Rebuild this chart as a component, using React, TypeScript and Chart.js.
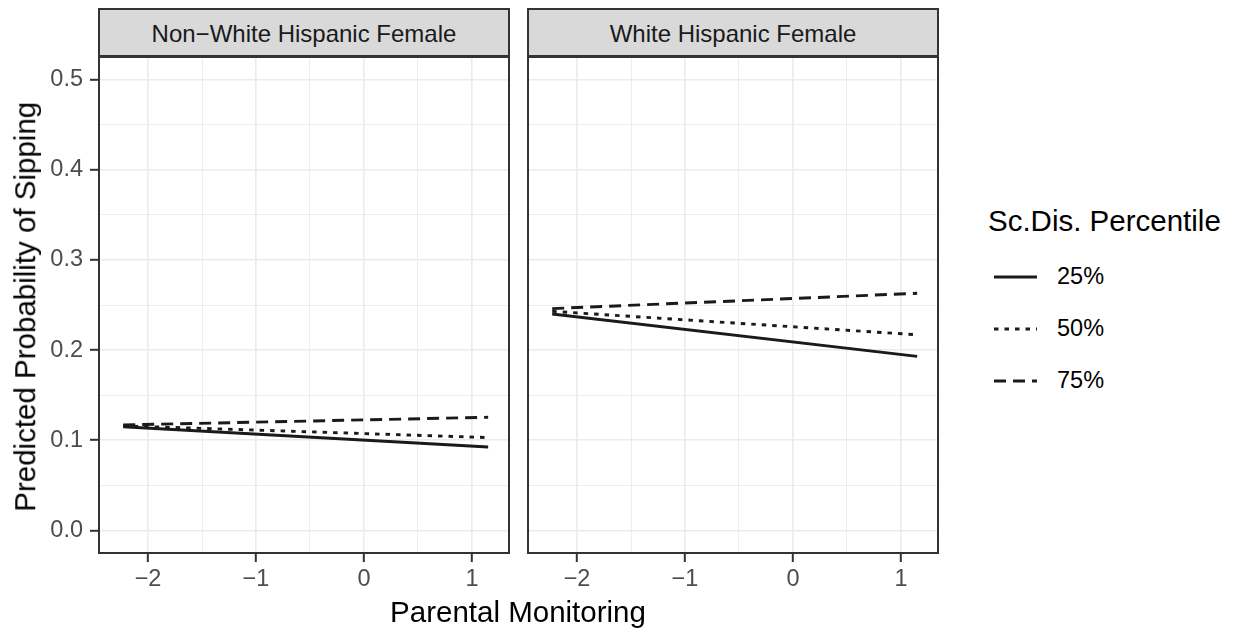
import React, { useEffect, useRef } from "react";
import { Chart, registerables } from "chart.js";

Chart.register(...registerables);

// ---------- data ----------
const panelTitles = ["Non\u2212White Hispanic Female", "White Hispanic Female"];
const seriesNames = ["25%", "50%", "75%"];
const legendTitle = "Sc.Dis. Percentile";
const xAxisTitle = "Parental Monitoring";
const yAxisTitle = "Predicted Probability of Sipping";

const xPoints = [-2.23, 1.15];
const nonWhite25 = [0.115, 0.0925];
const nonWhite50 = [0.116, 0.103];
const nonWhite75 = [0.117, 0.1255];
const white25 = [0.24, 0.193];
const white50 = [0.243, 0.217];
const white75 = [0.246, 0.263];

const yMajorTicks = [0, 0.1, 0.2, 0.3, 0.4, 0.5];
const yMinorTicks = [0.05, 0.15, 0.25, 0.35, 0.45];
const yTickLabels = ["0.0", "0.1", "0.2", "0.3", "0.4", "0.5"];
const xMajorTicks = [-2, -1, 0, 1];
const xMinorTicks = [-1.5, -0.5, 0.5];
const xTickLabels = ["\u22122", "\u22121", "0", "1"];
const xRange = [-2.454, 1.343];
const yRange = [-0.025, 0.525];

// ---------- style ----------
const FONT = '"Liberation Sans", Arial, Helvetica, sans-serif';
const dashes: number[][] = [[], [4.5, 6], [12, 7]];
const LINE_W = 2.9;
const LINE_COLOR = "#1a1a1a";
const W = 1245;
const H = 635;
const AREA_TOP = 57;
const AREA_BOTTOM = 553;

const isIn = (arr: number[], v: number) => arr.some((a) => Math.abs(a - v) < 1e-9);

const panelBorder = {
  id: "panelBorder",
  afterDatasetsDraw(chart: any) {
    const { ctx, chartArea: a } = chart;
    ctx.save();
    ctx.strokeStyle = "#333333";
    ctx.lineWidth = 2;
    ctx.strokeRect(a.left, a.top, a.right - a.left, a.bottom - a.top);
    ctx.restore();
  },
};

type PanelProps = {
  series: number[][];
  showY: boolean;
  canvasLeft: number;
  canvasWidth: number;
  areaLeft: number;
  areaRight: number;
};

function Panel({ series, showY, canvasLeft, canvasWidth, areaLeft, areaRight }: PanelProps) {
  const ref = useRef<HTMLCanvasElement | null>(null);
  useEffect(() => {
    if (!ref.current) return;
    const gridWidth = (ctx: any, major: number[]) =>
      ctx && ctx.tick && isIn(major, ctx.tick.value) ? 1.6 : 0.9;
    const tickCol = (ctx: any, major: number[]) =>
      ctx && ctx.tick && isIn(major, ctx.tick.value) ? "#333333" : "rgba(0,0,0,0)";
    const chart = new Chart(ref.current, {
      type: "line",
      data: {
        datasets: series.map((vals, i) => ({
          label: seriesNames[i],
          data: xPoints.map((x, j) => ({ x, y: vals[j] })),
          borderColor: LINE_COLOR,
          borderWidth: LINE_W,
          borderDash: dashes[i],
          borderCapStyle: "butt",
          pointRadius: 0,
          fill: false,
          tension: 0,
        })),
      },
      options: {
        animation: false,
        responsive: false,
        maintainAspectRatio: false,
        devicePixelRatio: 1,
        layout: {
          padding: {
            top: AREA_TOP,
            left: 0,
            bottom: 0,
            right: canvasLeft + canvasWidth - areaRight,
          },
        },
        plugins: { legend: { display: false }, tooltip: { enabled: false } },
        scales: {
          x: {
            type: "linear",
            min: xRange[0],
            max: xRange[1],
            afterBuildTicks: (s: any) => {
              s.ticks = [...xMajorTicks, ...xMinorTicks]
                .sort((a, b) => a - b)
                .map((v) => ({ value: v }));
            },
            afterFit: (s: any) => {
              s.height = H - AREA_BOTTOM;
            },
            ticks: {
              autoSkip: false,
              maxRotation: 0,
              minRotation: 0,
              padding: 3.5,
              color: "#4d4d4d",
              font: { family: FONT, size: 23.5 },
              callback: (v: any) => {
                const idx = xMajorTicks.findIndex((m) => Math.abs(m - v) < 1e-9);
                return idx >= 0 ? xTickLabels[idx] : "";
              },
            },
            grid: {
              color: "#ebebeb",
              lineWidth: (ctx: any) => gridWidth(ctx, xMajorTicks),
              drawTicks: true,
              tickLength: 9,
              tickWidth: 2,
              tickColor: (ctx: any) => tickCol(ctx, xMajorTicks),
            },
            border: { display: false },
          },
          y: {
            type: "linear",
            min: yRange[0],
            max: yRange[1],
            afterBuildTicks: (s: any) => {
              s.ticks = [...yMajorTicks, ...yMinorTicks]
                .sort((a, b) => a - b)
                .map((v) => ({ value: v }));
            },
            afterFit: (s: any) => {
              s.width = areaLeft - canvasLeft;
            },
            ticks: {
              display: showY,
              autoSkip: false,
              padding: 7,
              color: "#4d4d4d",
              font: { family: FONT, size: 23.5 },
              callback: (v: any) => {
                const idx = yMajorTicks.findIndex((m) => Math.abs(m - v) < 1e-9);
                return idx >= 0 ? yTickLabels[idx] : "";
              },
            },
            grid: {
              color: "#ebebeb",
              lineWidth: (ctx: any) => gridWidth(ctx, yMajorTicks),
              drawTicks: showY,
              tickLength: 9,
              tickWidth: 2,
              tickColor: (ctx: any) => tickCol(ctx, yMajorTicks),
            },
            border: { display: false },
          },
        },
      } as any,
      plugins: [panelBorder],
    });
    return () => chart.destroy();
  }, []);
  return (
    <canvas
      ref={ref}
      width={canvasWidth}
      height={H}
      style={{ position: "absolute", left: canvasLeft, top: 0, width: canvasWidth, height: H }}
    />
  );
}

const panelsLayout = [
  { canvasLeft: 0, canvasWidth: 516, areaLeft: 99, areaRight: 509, showY: true },
  { canvasLeft: 518, canvasWidth: 432, areaLeft: 528, areaRight: 938, showY: false },
];

export default function App() {
  const seriesByPanel = [
    [nonWhite25, nonWhite50, nonWhite75],
    [white25, white50, white75],
  ];
  const legendCenters = [276.5, 328.5, 380.5];
  return (
    <div
      style={{
        position: "absolute",
        left: 0,
        top: 0,
        width: W,
        height: H,
        background: "#ffffff",
        fontFamily: FONT,
        overflow: "hidden",
      }}
    >
      {panelsLayout.map((p, i) => (
        <React.Fragment key={i}>
          <Panel series={seriesByPanel[i]} {...p} />
          <div
            style={{
              position: "absolute",
              left: p.areaLeft - 1,
              top: 8,
              width: p.areaRight - p.areaLeft + 2,
              height: 49,
              boxSizing: "border-box",
              border: "2px solid #333333",
              background: "#d9d9d9",
            }}
          />
          <div
            style={{
              position: "absolute",
              left: p.areaLeft,
              top: 21.5,
              width: p.areaRight - p.areaLeft,
              textAlign: "center",
              fontSize: 24,
              lineHeight: "24px",
              color: "#1a1a1a",
              whiteSpace: "nowrap",
            }}
          >
            {panelTitles[i]}
          </div>
        </React.Fragment>
      ))}

      {/* y axis title */}
      <div
        style={{
          position: "absolute",
          left: 25 - 300,
          top: 307 - 14.75,
          width: 600,
          height: 29.5,
          textAlign: "center",
          fontSize: 29.5,
          lineHeight: "29.5px",
          color: "#000",
          whiteSpace: "nowrap",
          transform: "rotate(-90deg)",
          transformOrigin: "50% 50%",
        }}
      >
        {yAxisTitle}
      </div>

      {/* x axis title */}
      <div
        style={{
          position: "absolute",
          left: 518 - 300,
          top: 597,
          width: 600,
          textAlign: "center",
          fontSize: 29.5,
          lineHeight: "29.5px",
          color: "#000",
          whiteSpace: "nowrap",
        }}
      >
        {xAxisTitle}
      </div>

      {/* legend */}
      <div
        style={{
          position: "absolute",
          left: 988,
          top: 206,
          fontSize: 29.5,
          lineHeight: "29.5px",
          color: "#000",
          whiteSpace: "nowrap",
        }}
      >
        {legendTitle}
      </div>
      {seriesNames.map((name, i) => (
        <React.Fragment key={name}>
          <svg
            width={50}
            height={20}
            style={{ position: "absolute", left: 990, top: legendCenters[i] - 10 }}
          >
            <line
              x1={4}
              x2={47}
              y1={10}
              y2={10}
              stroke={LINE_COLOR}
              strokeWidth={LINE_W}
              strokeDasharray={dashes[i].length ? dashes[i].join(" ") : undefined}
            />
          </svg>
          <div
            style={{
              position: "absolute",
              left: 1057,
              top: legendCenters[i] - 11.5,
              fontSize: 23.5,
              lineHeight: "23.5px",
              color: "#000",
              whiteSpace: "nowrap",
            }}
          >
            {name}
          </div>
        </React.Fragment>
      ))}
    </div>
  );
}
